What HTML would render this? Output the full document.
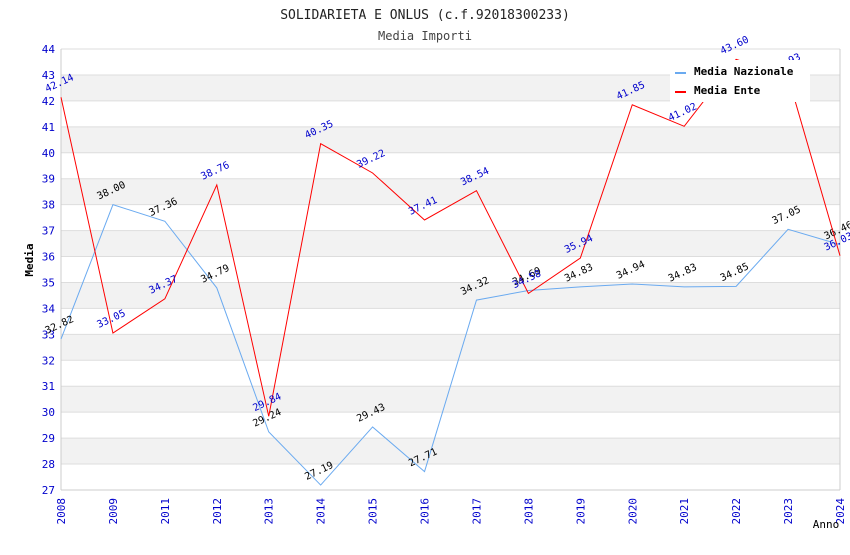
<!DOCTYPE html>
<html><head><meta charset="utf-8"><style>
body{margin:0;background:#fff;}
svg text{font-family:"DejaVu Sans Mono","Liberation Mono",monospace;}
</style></head><body>
<svg id="c" width="850" height="550" xmlns="http://www.w3.org/2000/svg">
<text x="425" y="19" text-anchor="middle" font-size="13" fill="#222">SOLIDARIETA E ONLUS (c.f.92018300233)</text>
<text x="425" y="40" text-anchor="middle" font-size="12" fill="#444">Media Importi</text>
<g id="grid"></g><g id="axes"></g><g id="series"></g>
<text x="33" y="260" font-size="11" font-weight="bold" fill="#000" transform="rotate(-90 33 260)" text-anchor="middle">Media</text>
<text x="826" y="528" font-size="11" fill="#000" text-anchor="middle">Anno</text>
<g>
<rect x="670" y="60" width="140" height="42" fill="#fff"/>
<line x1="675" y1="73" x2="686" y2="73" stroke="#6aaaf0" stroke-width="2"/>
<text x="694" y="75" font-size="11" font-weight="bold">Media Nazionale</text>
<line x1="675" y1="92" x2="686" y2="92" stroke="#f00" stroke-width="2"/>
<text x="694" y="94" font-size="11" font-weight="bold">Media Ente</text>
</g>
</svg>
<script>
const years=["2008","2009","2011","2012","2013","2014","2015","2016","2017","2018","2019","2020","2021","2022","2023","2024"];
const nazionale=[32.82,38.00,37.36,34.79,29.24,27.19,29.43,27.71,34.32,34.69,34.83,34.94,34.83,34.85,37.05,36.46];
const ente=[42.14,33.05,34.37,38.76,29.84,40.35,39.22,37.41,38.54,34.58,35.94,41.85,41.02,43.60,42.93,36.03];
const yTicks=[27,28,29,30,31,32,33,34,35,36,37,38,39,40,41,42,43,44];
const NS="http://www.w3.org/2000/svg";
const X0=61,X1=840,Y0=490,Y1=49,YMIN=27,YMAX=44;
const xs=i=>X0+(X1-X0)*i/(years.length-1);
const ys=v=>Y0-(v-YMIN)*(Y0-Y1)/(YMAX-YMIN);
function mk(t,a,p){const e=document.createElementNS(NS,t);for(const k in a)e.setAttribute(k,a[k]);p.appendChild(e);return e;}
const grid=document.getElementById('grid'),axes=document.getElementById('axes'),ser=document.getElementById('series');
for(let i=0;i<yTicks.length-1;i++){
 const r=mk('rect',{x:X0,y:ys(yTicks[i+1]),width:X1-X0,height:ys(yTicks[i])-ys(yTicks[i+1]),fill:i%2?'#f2f2f2':'#fff'},grid);
 
 
}
yTicks.forEach(v=>{
 const l=mk('line',{x1:X0,x2:X1,y1:ys(v),y2:ys(v),stroke:'#ddd'},grid);
 
 
 const t=mk('text',{x:X0-6,y:ys(v)+4,'text-anchor':'end','font-size':11,fill:'#00c'},axes);
 t.textContent=v;
 
 
});
mk('line',{x1:X0,x2:X0,y1:Y1,y2:Y0,stroke:'#ccc'},axes);
mk('line',{x1:X1,x2:X1,y1:Y1,y2:Y0,stroke:'#ccc'},axes);
mk('line',{x1:X0,x2:X1,y1:Y0,y2:Y0,stroke:'#ccc'},axes);
years.forEach((y,i)=>{
 const t=mk('text',{x:xs(i),y:Y0+8,'font-size':11,fill:'#00c','text-anchor':'end',transform:`rotate(-90 ${xs(i)} ${Y0+8})`,dy:4},axes);
 t.textContent=y;
 
 
});
function draw(data,color,lblColor,name){
 const p=mk('polyline',{points:data.map((v,i)=>xs(i)+','+ys(v)).join(' '),fill:'none',stroke:color,'stroke-width':1},ser);
 
 
 data.forEach((v,i)=>{
  const x=xs(i)-14,y=ys(v)-5;
  const t=mk('text',{x:x,y:y,'font-size':10,fill:lblColor,transform:`rotate(-25 ${x} ${y})`},ser);
  t.textContent=v.toFixed(2);
  
  
 });
}
draw(nazionale,'#6aaaf0','#000','nazionale');
draw(ente,'#f00','#00c','ente');
</script>
</body></html>
